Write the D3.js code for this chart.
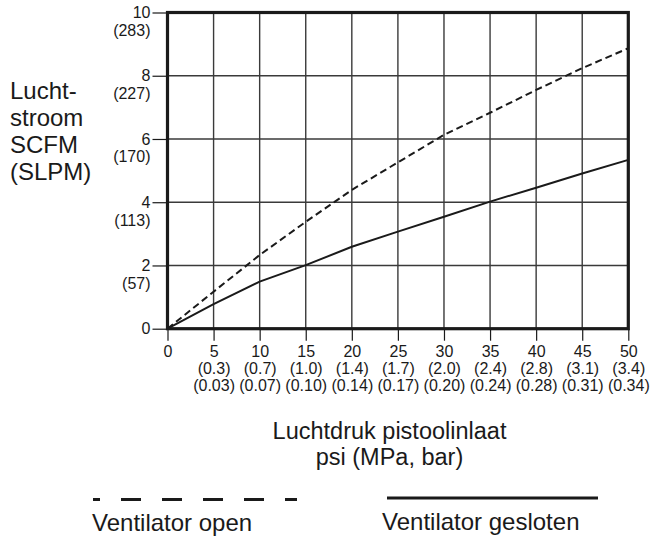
<!DOCTYPE html>
<html>
<head>
<meta charset="utf-8">
<script src="https://cdn.jsdelivr.net/npm/d3@7"></script>
<style>
  html, body { margin: 0; padding: 0; background: #fff; }
  svg { display: block; font-family: "Liberation Sans", Arial, Helvetica, sans-serif; }
</style>
</head>
<body>
<svg id="chart" width="651" height="536"></svg>
<script>
// Inlet pressure (psi) with the matching MPa and bar values
const psiTicks = [0, 5, 10, 15, 20, 25, 30, 35, 40, 45, 50];
const mpaLabels = ["", "(0.3)", "(0.7)", "(1.0)", "(1.4)", "(1.7)", "(2.0)", "(2.4)", "(2.8)", "(3.1)", "(3.4)"];
const barLabels = ["", "(0.03)", "(0.07)", "(0.10)", "(0.14)", "(0.17)", "(0.20)", "(0.24)", "(0.28)", "(0.31)", "(0.34)"];

// Air flow (SCFM) with the matching SLPM values
const scfmTicks = [0, 2, 4, 6, 8, 10];
const slpmLabels = ["", "(57)", "(113)", "(170)", "(227)", "(283)"];

// Flow curves, one value per psi tick
const ventOpen   = [0, 1.17, 2.33, 3.38, 4.39, 5.26, 6.13, 6.83, 7.55, 8.24, 8.87];
const ventClosed = [0, 0.78, 1.49, 2.01, 2.59, 3.07, 3.54, 4.02, 4.46, 4.91, 5.34];

const legendLabels = ["Ventilator open", "Ventilator gesloten"];
const xTitle = ["Luchtdruk pistoolinlaat", "psi (MPa, bar)"];
const yTitle = ["Lucht-", "stroom", "SCFM", "(SLPM)"];

const ink = "#1a1a1a";
const tickFont = 16;
const titleFont = 24;
const svg = d3.select("#chart");

const x = d3.scaleLinear().domain([0, 50]).range([167.5, 628.3]);
const y = d3.scaleLinear().domain([0, 10]).range([328.7, 12.5]);

// grid
const grid = svg.append("g");
grid.selectAll("line.v").data(psiTicks.slice(1, -1)).join("line")
  .attr("x1", d => x(d)).attr("x2", d => x(d))
  .attr("y1", y(0)).attr("y2", y(10))
  .attr("stroke", "#3a3a3a").attr("stroke-width", 1.4);
grid.selectAll("line.h").data(scfmTicks.slice(1, -1)).join("line")
  .attr("x1", x(0)).attr("x2", x(50))
  .attr("y1", d => y(d)).attr("y2", d => y(d))
  .attr("stroke", "#3a3a3a").attr("stroke-width", 1.4);

// y axis ticks and labels
const yAxis = svg.append("g").attr("transform", `translate(${x(0)},0)`)
  .call(d3.axisLeft(y).tickValues(scfmTicks).tickSize(15).tickPadding(2).tickFormat(d3.format("d")));
yAxis.attr("font-family", null).attr("font-size", tickFont);
yAxis.select(".domain").remove();
yAxis.selectAll(".tick line").attr("stroke", ink).attr("stroke-width", 1.2);
yAxis.selectAll(".tick text").attr("fill", ink);
yAxis.selectAll(".tick").append("text")
  .attr("x", -17).attr("y", 23).attr("text-anchor", "end")
  .attr("fill", ink)
  .text((d, i) => slpmLabels[i]);

// x axis ticks and labels
const xAxis = svg.append("g").attr("transform", `translate(0,${y(0)})`)
  .call(d3.axisBottom(x).tickValues(psiTicks).tickSize(12).tickPadding(5).tickFormat(d3.format("d")));
xAxis.attr("font-family", null).attr("font-size", tickFont);
xAxis.select(".domain").remove();
xAxis.selectAll(".tick line").attr("stroke", ink).attr("stroke-width", 1.2);
xAxis.selectAll(".tick text").attr("fill", ink);
xAxis.selectAll(".tick").append("text")
  .attr("y", 45).attr("text-anchor", "middle")
  .attr("fill", ink)
  .text((d, i) => mpaLabels[i]);
xAxis.selectAll(".tick").append("text")
  .attr("y", 62.5).attr("text-anchor", "middle")
  .attr("fill", ink)
  .text((d, i) => barLabels[i]);

// curves
const line = d3.line().x((d, i) => x(psiTicks[i])).y(d => y(d));
svg.append("path").datum(ventClosed)
  .attr("d", line).attr("fill", "none")
  .attr("stroke", ink).attr("stroke-width", 2);
svg.append("path").datum(ventOpen)
  .attr("d", line).attr("fill", "none")
  .attr("stroke", ink).attr("stroke-width", 2)
  .attr("stroke-dasharray", "7,4");

// frame
svg.append("rect")
  .attr("x", x(0)).attr("y", y(10))
  .attr("width", x(50) - x(0)).attr("height", y(0) - y(10))
  .attr("fill", "none").attr("stroke", ink).attr("stroke-width", 3.2);

// y title
svg.append("text").attr("font-size", titleFont).attr("fill", ink)
  .selectAll("tspan").data(yTitle).join("tspan")
  .attr("x", 10).attr("y", (d, i) => 99.3 + i * 26.9)
  .text(d => d);

// x title, two lines
svg.append("g").attr("font-size", 23.5).attr("fill", ink).attr("text-anchor", "middle")
  .selectAll("text").data(xTitle).join("text")
  .attr("x", 389.5).attr("y", (d, i) => 438.6 + i * 26.4)
  .text(d => d);

// legend
svg.append("line")
  .attr("x1", 93).attr("x2", 297).attr("y1", 499.5).attr("y2", 499.5)
  .attr("stroke", ink).attr("stroke-width", 3)
  .attr("stroke-dasharray", "20,21").attr("stroke-dashoffset", 13);
svg.append("line")
  .attr("x1", 387).attr("x2", 598).attr("y1", 498).attr("y2", 498)
  .attr("stroke", ink).attr("stroke-width", 3);
svg.append("text").attr("x", 92).attr("y", 530.5)
  .attr("font-size", titleFont).attr("fill", ink).text(legendLabels[0]);
svg.append("text").attr("x", 382).attr("y", 529.5)
  .attr("font-size", titleFont).attr("fill", ink).text(legendLabels[1]);
</script>
</body>
</html>
